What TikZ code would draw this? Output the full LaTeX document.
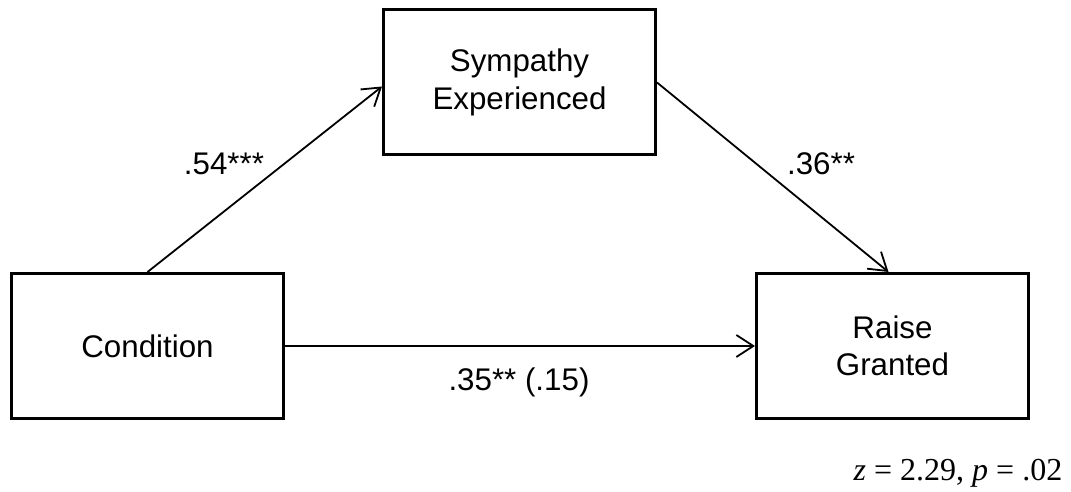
\documentclass[tikz,border=0pt]{standalone}
\usepackage{fontspec}
\setmainfont{Liberation Sans}
\newfontfamily\timesfont{Liberation Serif}
\usetikzlibrary{arrows.meta}
\tikzset{
  box/.style={draw=black, line width=3pt, minimum width=272pt, minimum height=145pt,
    align=center, inner sep=0pt, font=\fontsize{31.3}{37.5}\selectfont},
  conn/.style={line width=1.8pt, -{Straight Barb[length=17pt,width=22pt,line width=1.8pt]}},
  lbl/.style={anchor=base, inner sep=0pt, font=\fontsize{31.3}{37.5}\selectfont},
  stat/.style={anchor=base, inner sep=0pt, font=\timesfont\fontsize{32}{38}\selectfont}
}
\begin{document}
\begin{tikzpicture}[x=1pt,y=1pt]
\useasboundingbox (0,0) rectangle (1071,492);
\node[box] (sym) at (519.5,409.5) {Sympathy\\Experienced};
\node[box] (cond) at (147.5,146) {Condition};
\node[box] (raise) at (892.5,146) {Raise\\Granted};
\draw[conn] (cond.north) -- ([yshift=-4pt]sym.west);
\draw[conn] (sym.east) -- ([xshift=-4pt]raise.north);
\draw[conn] (cond.east) -- (raise.west);
\node[lbl] (l1) at (224,317) {.54***};
\node[lbl] (l2) at (821,317) {.36**};
\node[lbl] (l3) at (519,101) {.35** (.15)};
\node[stat] (z) at (958,11) {\itshape z\upshape{} = 2.29, \itshape p\upshape{} = .02};
\end{tikzpicture}
\end{document}
